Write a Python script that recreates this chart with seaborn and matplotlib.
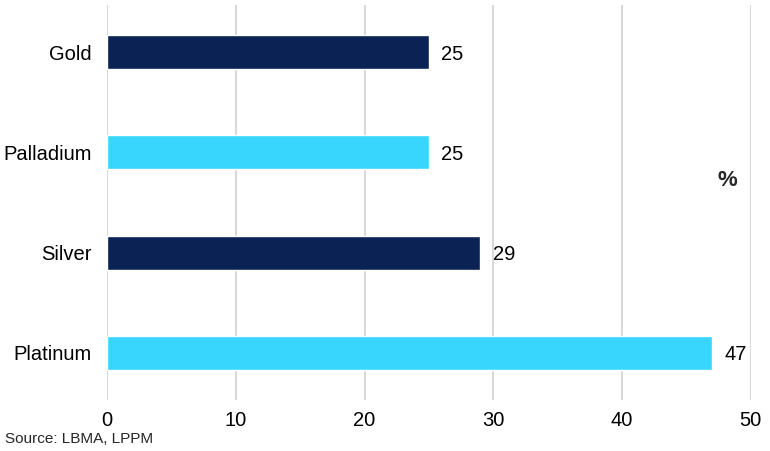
import pandas as pd
import matplotlib.pyplot as plt
import seaborn as sns

metals = ['Gold', 'Palladium', 'Silver', 'Platinum']
values = [25, 25, 29, 47]
bar_colors = ['#0B2254', '#38D6FD', '#0B2254', '#38D6FD']
x_ticks = [0, 10, 20, 30, 40, 50]

df = pd.DataFrame({'Metal': metals, 'Value': values})

sns.set_style('white')
plt.rcParams['font.family'] = ['Liberation Sans', 'DejaVu Sans']

fig = plt.figure(figsize=(7.7, 4.51), dpi=100)
ax = fig.add_axes([0.139, 0.113, 0.836, 0.876])

sns.barplot(data=df, x='Value', y='Metal', hue='Metal', palette=bar_colors,
            orient='h', width=0.34, legend=False, ax=ax, saturation=1)

# value labels
for c in ax.containers:
    for t in ax.bar_label(c, padding=9, fontsize=14.5, color='#000000'):
        t.set_va('center_baseline')

ax.set_xlim(0, 50)
ax.set_ylim(3.47, -0.47)
ax.set_xticks(x_ticks)
ax.xaxis.grid(True, color='#D9D9D9', linewidth=1.5)
ax.set_axisbelow(True)
for s in ax.spines.values():
    s.set_visible(False)
ax.tick_params(axis='both', length=0, labelsize=14.5, colors='#000000')
ax.tick_params(axis='x', pad=8)
ax.tick_params(axis='y', pad=11)
ax.set_xlabel('')
ax.set_ylabel('')

fig.text(0.945, 0.60, '%', fontsize=16, fontweight='bold', ha='center', va='center')
fig.text(0.006, 0.012, 'Source: LBMA, LPPM', fontsize=11, ha='left', va='bottom')

plt.savefig('out.png', dpi=100)
